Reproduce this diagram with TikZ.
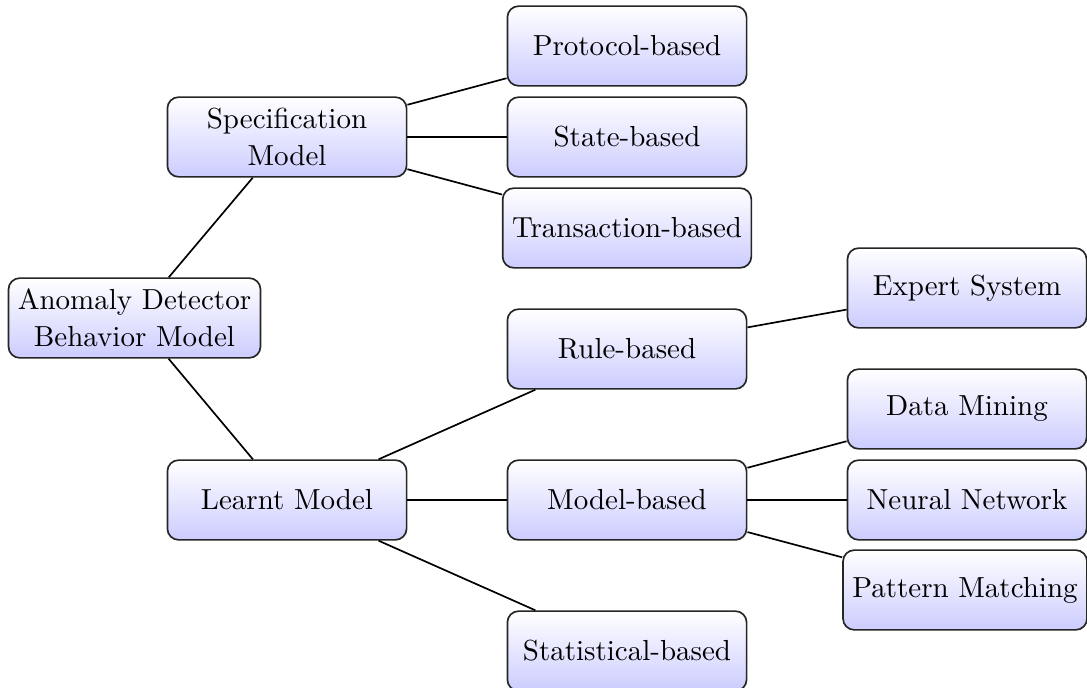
\documentclass[tikz,border=0pt]{standalone}
\usetikzlibrary{shadings}

\tikzset{
  box/.style={
    draw=black!85, line width=0.6pt, rounded corners=4pt,
    top color=white, bottom color=blue!20,
    minimum width=3cm, minimum height=1cm,
    align=center, inner sep=3.33pt,
    font=\fontsize{10.35}{13.1}\selectfont
  },
  link/.style={line width=0.6pt, black}
}

\begin{document}
\begin{tikzpicture}[x=0.012547cm, y=-0.012547cm]
  \useasboundingbox (0,0) rectangle (1087,688);
  \begin{scope}
  \clip (0,0) rectangle (1087,688);

  % root
  \node[box] (root) at (134.5,318) {Anomaly Detector\\Behavior Model};

  % first level
  \node[box] (spec)  at (287,137) {Specification\\Model};
  \node[box] (learn) at (287,500) {Learnt Model};

  % specification branch
  \node[box] (proto) at (627,46)  {Protocol-based};
  \node[box] (state) at (627,137) {State-based};
  \node[box] (trans) at (627,228) {Transaction-based};

  % learnt branch
  \node[box] (rule)  at (627,349) {Rule-based};
  \node[box] (model) at (627,500) {Model-based};
  \node[box] (stat)  at (627,651) {Statistical-based};

  % leaves
  \node[box] (expert) at (967,288) {Expert System};
  \node[box] (mining) at (967,409) {Data Mining};
  \node[box] (neural) at (967,500) {Neural Network};
  \node[box] (pattern) at (965,590) {Pattern Matching};

  % connectors
  \draw[link] (root) -- (spec);
  \draw[link] (root) -- (learn);
  \draw[link] (spec) -- (proto);
  \draw[link] (spec) -- (state);
  \draw[link] (spec) -- (trans);
  \draw[link] (learn) -- (rule);
  \draw[link] (learn) -- (model);
  \draw[link] (learn) -- (stat);
  \draw[link] (rule) -- (expert);
  \draw[link] (model) -- (mining);
  \draw[link] (model) -- (neural);
  \draw[link] (model) -- (pattern);
  \end{scope}
\end{tikzpicture}
\end{document}
